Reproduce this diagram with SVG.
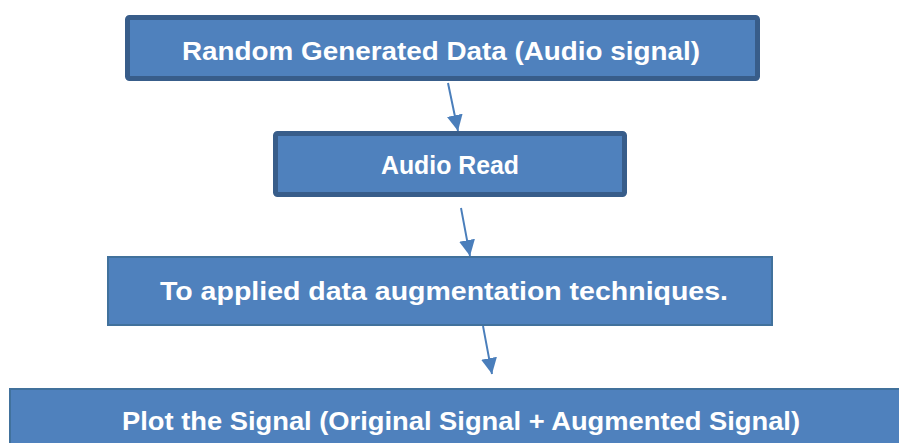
<svg xmlns="http://www.w3.org/2000/svg" width="899" height="443" viewBox="0 0 899 443">
<style>
.thick{fill:#4F81BD;stroke:#385D8A;stroke-width:5}
.thin{fill:#4F81BD;stroke:#41719C;stroke-width:2}
.t{font-family:"Liberation Sans",Arial,sans-serif;font-weight:bold;fill:#FFFFFF;font-size:26px}
.c{stroke:#4A7EBB;stroke-width:2;fill:none;marker-end:url(#ah)}
</style>
<defs>
<marker id="ah" viewBox="0 0 10 10" refX="10" refY="5" markerWidth="8" markerHeight="8" markerUnits="strokeWidth" orient="auto">
<path d="M0,0 L10,5 L0,10 z" fill="#4A7EBB"/>
</marker>
</defs>
<rect width="899" height="443" fill="#FFFFFF"/>
<g id="connectors">
<line class="c" x1="448" y1="83" x2="458" y2="131"/>
<line class="c" x1="461" y1="208" x2="470" y2="256"/>
<line class="c" x1="483" y1="326" x2="492" y2="374"/>
</g>
<g id="n1">
<rect class="thick" x="127.5" y="17.5" width="630" height="61" rx="2"/>
<text class="t" x="441" y="60" text-anchor="middle" textLength="518" lengthAdjust="spacingAndGlyphs">Random Generated Data (Audio signal)</text>
</g>
<g id="n2">
<rect class="thick" x="275.5" y="133.5" width="349" height="61" rx="2"/>
<text class="t" x="450" y="174" text-anchor="middle" textLength="138" lengthAdjust="spacingAndGlyphs">Audio Read</text>
</g>
<g id="n3">
<rect class="thin" x="108" y="257" width="664" height="68"/>
<text class="t" x="444" y="300" text-anchor="middle" textLength="568" lengthAdjust="spacingAndGlyphs">To applied data augmentation techniques.</text>
</g>
<g id="n4">
<rect class="thin" x="10" y="389" width="900" height="70"/>
<text class="t" x="461" y="430" text-anchor="middle" textLength="678" lengthAdjust="spacingAndGlyphs">Plot the Signal (Original Signal + Augmented Signal)</text>
</g>
</svg>
